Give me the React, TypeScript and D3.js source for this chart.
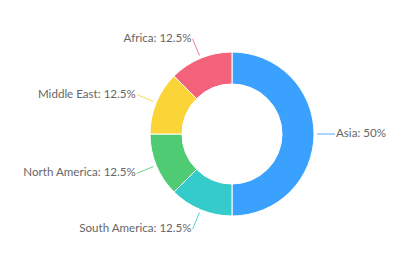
import React from "react";
import * as d3 from "d3";

const regions = ["Asia", "South America", "North America", "Middle East", "Africa"];
const shares = [50, 12.5, 12.5, 12.5, 12.5];
const colors = ["#3AA1FF", "#36CBCB", "#4ECB73", "#FBD437", "#F2637B"];

const W = 415;
const H = 275;
const cx = 232;
const cy = 134;
const outerR = 82;
const innerR = 50;

export default function App() {
  const pie = d3.pie<number>().sort(null).value((d) => d)(shares);
  const arc = d3.arc<d3.PieArcDatum<number>>().innerRadius(innerR).outerRadius(outerR);
  const total = d3.sum(shares);
  return (
    <svg width={W} height={H} style={{ position: "absolute", left: 0, top: 0 }}>
      <g transform={`translate(${cx},${cy})`}>
        {pie.map((p, i) => (
          <path key={i} d={arc(p) || ""} fill={colors[i]} stroke="#fff" strokeWidth={1} />
        ))}
        {pie.map((p, i) => {
          const a = (p.startAngle + p.endAngle) / 2;
          const s = Math.sin(a);
          const c = -Math.cos(a);
          const r1 = outerR + 3;
          const r2 = outerR + 21;
          const x1 = r1 * s, y1 = r1 * c, x2 = r2 * s, y2 = r2 * c;
          const right = s > 0.001;
          const pct = d3.format("~g")((shares[i] / total) * 100);
          return (
            <g key={"l" + i}>
              <line x1={x1} y1={y1} x2={x2} y2={y2} stroke={colors[i]} strokeWidth={1} opacity={0.85} />
              <text
                x={right ? x2 + 1 : x2 - 1}
                y={y2}
                textAnchor={right ? "start" : "end"}
                dominantBaseline="middle"
                fontSize={11.6}
                fontFamily="Lato, 'Liberation Sans', Arial, sans-serif"
                fill="#666"
              >
                {`${regions[i]}: ${pct}%`}
              </text>
            </g>
          );
        })}
      </g>
    </svg>
  );
}
